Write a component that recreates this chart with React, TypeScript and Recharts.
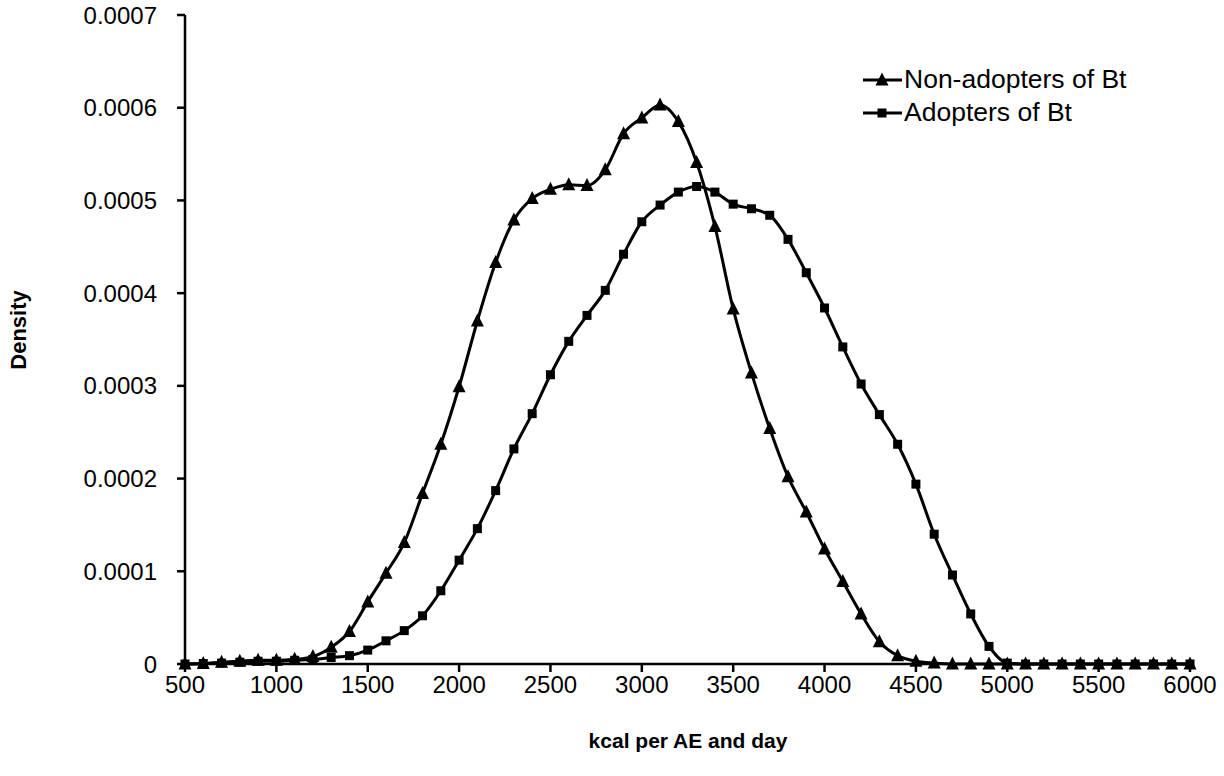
import React from 'react'
import {
    LineChart,
    Line,
    XAxis,
    YAxis,
    Label,
} from 'recharts'

// kcal per adult equivalent and day (x values)
const kcal = [
    500, 600, 700, 800, 900, 1000, 1100, 1200, 1300, 1400, 1500, 1600, 1700,
    1800, 1900, 2000, 2100, 2200, 2300, 2400, 2500, 2600, 2700, 2800, 2900,
    3000, 3100, 3200, 3300, 3400, 3500, 3600, 3700, 3800, 3900, 4000, 4100,
    4200, 4300, 4400, 4500, 4600, 4700, 4800, 4900, 5000, 5100, 5200, 5300,
    5400, 5500, 5600, 5700, 5800, 5900, 6000,
]

const nonAdopters = [
    0, 0.0000005, 0.000002, 0.000003, 0.000004, 0.000004, 0.000005, 0.000008,
    0.000018, 0.000035, 0.000067, 0.000098, 0.000131, 0.000184, 0.000237,
    0.000299, 0.00037, 0.000433, 0.000479, 0.000502, 0.000512, 0.000517,
    0.000516, 0.000533, 0.000572, 0.000589, 0.000603, 0.000585, 0.000541,
    0.000472, 0.000383, 0.000314, 0.000254, 0.000202, 0.000164, 0.000124,
    0.000089, 0.000054, 0.000024, 0.000009, 0.000003, 0.000001, 0, 0, 0, 0,
    0, 0, 0, 0, 0, 0, 0, 0, 0, 0,
]

const adopters = [
    0, 0.0000005, 0.000001, 0.000002, 0.000003, 0.000003, 0.000004, 0.000005,
    0.000007, 0.000009, 0.000015, 0.000025, 0.000036, 0.000052, 0.000079,
    0.000112, 0.000146, 0.000187, 0.000232, 0.00027, 0.000312, 0.000348,
    0.000376, 0.000403, 0.000442, 0.000477, 0.000495, 0.000509, 0.000515,
    0.000509, 0.000496, 0.000491, 0.000484, 0.000458, 0.000422, 0.000384,
    0.000342, 0.000302, 0.000269, 0.000237, 0.000194, 0.00014, 0.000096,
    0.000054, 0.000019, 0.000001, 0, 0, 0, 0, 0, 0, 0, 0, 0, 0,
]

const xTicks = [500, 1000, 1500, 2000, 2500, 3000, 3500, 4000, 4500, 5000, 5500, 6000]
const yTicks = [0, 0.0001, 0.0002, 0.0003, 0.0004, 0.0005, 0.0006, 0.0007]

const seriesNames = ['Non-adopters of Bt', 'Adopters of Bt']

const data = kcal.map((x, i) => ({
    kcal: x,
    non: nonAdopters[i],
    ad: adopters[i],
}))

const FONT = '"Liberation Sans", Arial, sans-serif'

const TriangleDot = (props: any) => {
    const { cx, cy } = props
    if (cx == null || cy == null) return null
    const s = 6.5
    return (
        <path
            d={`M${cx},${cy - s - 1} L${cx + s},${cy + s - 1} L${cx - s},${cy + s - 1} Z`}
            fill='#000'
        />
    )
}

const SquareDot = (props: any) => {
    const { cx, cy } = props
    if (cx == null || cy == null) return null
    return <rect x={cx - 4.5} y={cy - 4.5} width={9} height={9} fill='#000' />
}

// legend drawn as an overlay so it doesn't shrink the plot area
const LegendBox = () => (
    <div
        style={{
            position: 'absolute',
            left: 861,
            top: 63,
            fontFamily: FONT,
            fontSize: 26.5,
            color: '#000',
        }}
    >
        {seriesNames.map((name, i) => (
            <div
                key={name}
                style={{ display: 'flex', alignItems: 'center', height: 33, whiteSpace: 'nowrap' }}
            >
                <svg width={43} height={20}>
                    <line x1={2} y1={10} x2={41} y2={10} stroke='#000' strokeWidth={3} />
                    {i === 0 ? (
                        <TriangleDot cx={21} cy={10} />
                    ) : (
                        <SquareDot cx={21} cy={10} />
                    )}
                </svg>
                <span>{name}</span>
            </div>
        ))}
    </div>
)

const App: React.FC = () => {
    return (
        <div style={{ position: 'absolute', left: 0, top: 0, width: 1224, height: 776 }}>
            <LineChart
                width={1224}
                height={776}
                data={data}
                margin={{ top: 15, right: 34, left: 0, bottom: 82 }}
            >
                <XAxis
                    dataKey='kcal'
                    type='number'
                    domain={[500, 6000]}
                    ticks={xTicks}
                    height={30}
                    stroke='#000'
                    strokeWidth={2.5}
                    tickSize={8}
                    tickMargin={4}
                    tick={{ fill: '#000', fontSize: 24, fontFamily: FONT }}
                >
                    <Label
                        content={() => (
                            <text
                                x={688}
                                y={748}
                                textAnchor='middle'
                                fontFamily={FONT}
                                fontWeight='bold'
                                fontSize={21}
                                fill='#000'
                            >
                                kcal per AE and day
                            </text>
                        )}
                    />
                </XAxis>
                <YAxis
                    type='number'
                    domain={[0, 0.0007]}
                    ticks={yTicks}
                    width={185}
                    stroke='#000'
                    strokeWidth={2.5}
                    tickSize={8}
                    tickMargin={20}
                    tickFormatter={(v: number) => (v === 0 ? '0' : v.toFixed(4))}
                    tick={{ fill: '#000', fontSize: 24, fontFamily: FONT }}
                >
                    <Label
                        content={() => (
                            <text
                                x={26}
                                y={330}
                                textAnchor='middle'
                                transform='rotate(-90 26 330)'
                                fontFamily={FONT}
                                fontWeight='bold'
                                fontSize={22}
                                fill='#000'
                            >
                                Density
                            </text>
                        )}
                    />
                </YAxis>
                <Line
                    type='monotone'
                    dataKey='non'
                    name={seriesNames[0]}
                    stroke='#000'
                    strokeWidth={3}
                    dot={<TriangleDot />}
                    activeDot={false}
                    isAnimationActive={false}
                />
                <Line
                    type='monotone'
                    dataKey='ad'
                    name={seriesNames[1]}
                    stroke='#000'
                    strokeWidth={3}
                    dot={<SquareDot />}
                    activeDot={false}
                    isAnimationActive={false}
                />
            </LineChart>
            <LegendBox />
        </div>
    )
}

export default App
